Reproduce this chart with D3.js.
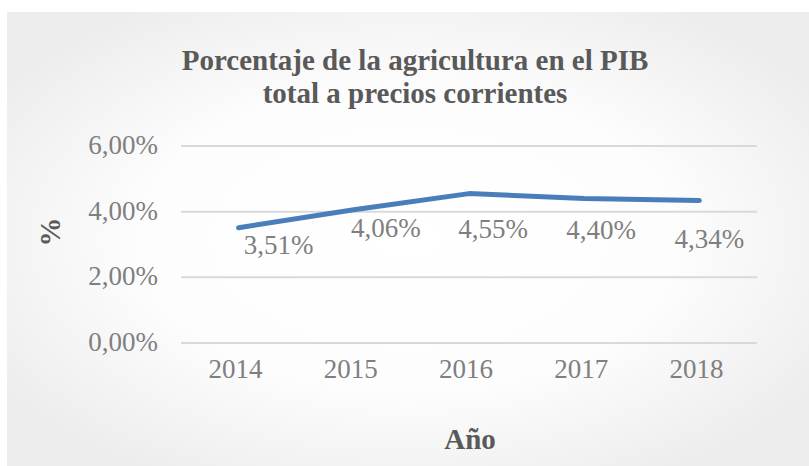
<!DOCTYPE html>
<html>
<head>
<meta charset="utf-8">
<script src="https://cdn.jsdelivr.net/npm/d3@7"></script>
<style>
  body { margin: 0; background: #fff; }
  svg { display: block; }
</style>
</head>
<body>
<div id="chart"></div>
<script>
var anios = ["2014", "2015", "2016", "2017", "2018"];
var valores = [3.51, 4.06, 4.55, 4.40, 4.34];
var etiquetas = ["3,51%", "4,06%", "4,55%", "4,40%", "4,34%"];
var ticksY = [0, 2, 4, 6];
var ticksYTexto = ["0,00%", "2,00%", "4,00%", "6,00%"];

// desplazamiento de las etiquetas de datos (como quedaron en el original)
var despEtiq = [[40, 26], [32, 27], [24, 44], [17, 40], [10, 47]];

var W = 809, H = 466;
var svg = d3.select("#chart").append("svg").attr("width", W).attr("height", H);

var defs = svg.append("defs");
var grad = defs.append("radialGradient").attr("id", "fondo")
  .attr("cx", "50%").attr("cy", "50%").attr("r", "60%");
grad.append("stop").attr("offset", "0%").attr("stop-color", "#ffffff");
grad.append("stop").attr("offset", "55%").attr("stop-color", "#fdfdfd");
grad.append("stop").attr("offset", "100%").attr("stop-color", "#ededed");

svg.append("rect").attr("x", 7).attr("y", 12).attr("width", W - 7).attr("height", H - 12)
  .attr("fill", "url(#fondo)");

var fuente = "'Liberation Serif', serif";

var x = d3.scaleBand().domain(anios).range([181, 757]);
var y = d3.scaleLinear().domain([0, 6]).range([343, 146]);

// lineas de cuadricula
svg.append("g").selectAll("line").data(ticksY).join("line")
  .attr("x1", 181).attr("x2", 757)
  .attr("y1", function(d){ return y(d); }).attr("y2", function(d){ return y(d); })
  .attr("stroke", "#d9d9d9").attr("stroke-width", 2);

// etiquetas eje Y
svg.append("g").selectAll("text").data(ticksY).join("text")
  .attr("x", 158).attr("y", function(d){ return y(d) + 8; })
  .attr("text-anchor", "end")
  .attr("font-family", fuente).attr("font-size", 27).attr("fill", "#7f7f7f")
  .text(function(d, i){ return ticksYTexto[i]; });

// etiquetas eje X
svg.append("g").selectAll("text").data(anios).join("text")
  .attr("x", function(d){ return x(d) + x.bandwidth() / 2 - 3; }).attr("y", 378)
  .attr("text-anchor", "middle")
  .attr("font-family", fuente).attr("font-size", 27).attr("fill", "#7f7f7f")
  .text(function(d){ return d; });

// linea
var linea = d3.line()
  .x(function(d, i){ return x(anios[i]) + x.bandwidth() / 2; })
  .y(function(d){ return y(d); });

svg.append("path").datum(valores)
  .attr("d", linea)
  .attr("fill", "none").attr("stroke", "#4a7ebb").attr("stroke-width", 5)
  .attr("stroke-linecap", "round").attr("stroke-linejoin", "round");

// etiquetas de datos
svg.append("g").selectAll("text").data(valores).join("text")
  .attr("x", function(d, i){ return x(anios[i]) + x.bandwidth() / 2 + despEtiq[i][0]; })
  .attr("y", function(d, i){ return y(d) + despEtiq[i][1]; })
  .attr("text-anchor", "middle")
  .attr("font-family", fuente).attr("font-size", 27).attr("fill", "#7f7f7f")
  .text(function(d, i){ return etiquetas[i]; });

// titulo
var titulo = svg.append("text").attr("text-anchor", "middle")
  .attr("font-family", fuente).attr("font-size", 29).attr("font-weight", "bold")
  .attr("fill", "#595959");
titulo.append("tspan").attr("x", 415).attr("y", 70).text("Porcentaje de la agricultura en el PIB");
titulo.append("tspan").attr("x", 415).attr("y", 103).text("total a precios corrientes");

// titulos de ejes
svg.append("text").attr("x", 470).attr("y", 449).attr("text-anchor", "middle")
  .attr("font-family", fuente).attr("font-size", 29).attr("font-weight", "bold")
  .attr("fill", "#595959").text("Año");

svg.append("text")
  .attr("transform", "translate(60,232) rotate(-90)")
  .attr("text-anchor", "middle")
  .attr("font-family", fuente).attr("font-size", 29).attr("font-weight", "bold")
  .attr("fill", "#595959").text("%");
</script>
</body>
</html>
